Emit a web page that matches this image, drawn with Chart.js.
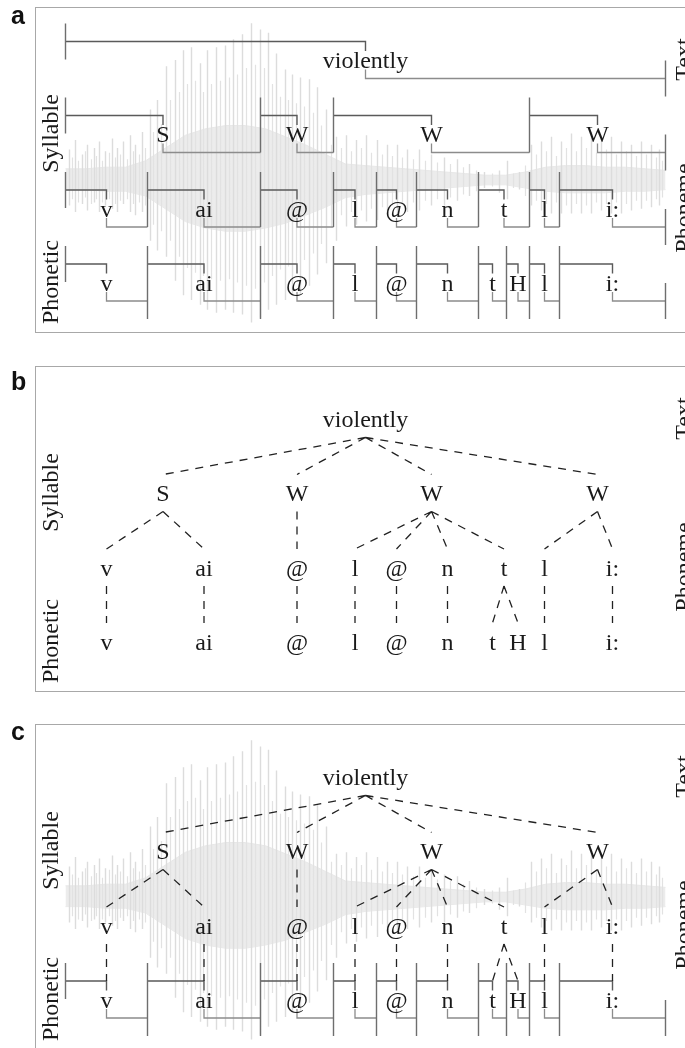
<!DOCTYPE html>
<html>
<head>
<meta charset="utf-8">
<script src="https://cdn.jsdelivr.net/npm/chart.js@4.4.1/dist/chart.umd.min.js"></script>
<style>
  html, body { margin: 0; padding: 0; background: #fff; overflow: hidden; width: 685px; height: 1048px; }
  .panel { position: absolute; left: 0; width: 700px; height: 326px; }
  .box { position: absolute; left: 35px; top: 0; width: 700px; height: 324px; border: 1.5px solid #a8a8a8; border-right: none; }
  .panel canvas { position: absolute; left: 0; top: 0; }
  .tag { position: absolute; left: 11px; font: bold 25px "Liberation Sans", Arial, sans-serif; line-height: 25px; color: #111; }
</style>
</head>
<body>
<div class="panel" style="top:7px"><div class="box"></div><canvas id="chartA" width="700" height="326"></canvas></div>
<div class="panel" style="top:366px"><div class="box"></div><canvas id="chartB" width="700" height="326"></canvas></div>
<div class="panel" style="top:724px"><div class="box"></div><canvas id="chartC" width="700" height="326"></canvas></div>
<div class="tag" style="top:3px">a</div>
<div class="tag" style="top:369px">b</div>
<div class="tag" style="top:719px">c</div>

<script>
// Tiers: labels and boundaries (ms)
const textLabels = ['violently'];
const textBounds = [0, 600];
const syllableLabels = ['S', 'W', 'W', 'W'];
const syllableBounds = [0, 195, 268, 464, 600];
const phonemeLabels = ['v', 'ai', '@', 'l', '@', 'n', 't', 'l', 'i:'];
const phonemeBounds = [0, 82, 195, 268, 311, 351, 413, 464, 494, 600];
const phoneticLabels = ['v', 'ai', '@', 'l', '@', 'n', 't', 'H', 'l', 'i:'];
const phoneticBounds = [0, 82, 195, 268, 311, 351, 413, 441, 464, 494, 600];

// which item of the tier above each item belongs to
const syllableParent = [0, 0, 0, 0];
const phonemeParent = [0, 0, 1, 2, 2, 2, 2, 3, 3];
const phoneticParent = [0, 1, 2, 3, 4, 5, 6, 6, 7, 8];

const tierNames = ['Text', 'Syllable', 'Phoneme', 'Phonetic'];

// waveform: dense core envelope
const coreT  = [0, 20, 40, 60, 80, 100, 120, 140, 160, 180, 200, 220, 240, 260, 280, 300, 320, 340, 360, 380, 400, 420, 440, 460, 480, 500, 520, 540, 560, 580, 600];
const coreHi = [0.07, 0.07, 0.08, 0.08, 0.12, 0.2, 0.28, 0.32, 0.34, 0.34, 0.32, 0.27, 0.22, 0.16, 0.1, 0.09, 0.08, 0.07, 0.06, 0.05, 0.04, 0.03, 0.03, 0.05, 0.08, 0.09, 0.09, 0.08, 0.08, 0.07, 0.06];
const coreLo = [-0.06, -0.06, -0.07, -0.07, -0.1, -0.18, -0.26, -0.3, -0.32, -0.32, -0.3, -0.27, -0.22, -0.17, -0.11, -0.09, -0.08, -0.07, -0.06, -0.05, -0.04, -0.03, -0.03, -0.05, -0.07, -0.08, -0.08, -0.08, -0.07, -0.07, -0.06];

// waveform: main peaks
const spikeT  = [4, 10, 17, 22, 29, 34, 40, 47, 52, 58, 65, 70, 77, 85, 92, 101, 110, 118, 126, 135, 142, 151, 160, 168, 177, 186, 195, 203, 211, 220, 227, 235, 244, 252, 261, 271, 281, 291, 301, 312, 322, 332, 342, 354, 366, 379, 392, 404, 419, 434, 442, 454, 466, 476, 486, 496, 506, 516, 526, 536, 546, 556, 566, 576, 586, 594];
const spikeHi = [0.19, 0.25, 0.16, 0.22, 0.2, 0.24, 0.18, 0.26, 0.2, 0.24, 0.28, 0.22, 0.3, 0.44, 0.5, 0.71, 0.75, 0.81, 0.83, 0.73, 0.81, 0.83, 0.84, 0.88, 0.91, 0.98, 0.94, 0.92, 0.79, 0.69, 0.66, 0.64, 0.63, 0.58, 0.44, 0.27, 0.28, 0.25, 0.28, 0.25, 0.22, 0.22, 0.19, 0.19, 0.16, 0.14, 0.13, 0.1, 0.05, 0.06, 0.12, 0.05, 0.22, 0.24, 0.27, 0.24, 0.29, 0.27, 0.3, 0.24, 0.27, 0.24, 0.22, 0.24, 0.22, 0.19];
const spikeLo = [-0.16, -0.2, -0.15, -0.19, -0.14, -0.2, -0.16, -0.18, -0.2, -0.15, -0.2, -0.22, -0.2, -0.38, -0.44, -0.48, -0.63, -0.72, -0.75, -0.78, -0.81, -0.83, -0.81, -0.83, -0.84, -0.89, -0.86, -0.81, -0.78, -0.75, -0.72, -0.71, -0.66, -0.59, -0.52, -0.38, -0.29, -0.28, -0.26, -0.25, -0.22, -0.22, -0.2, -0.19, -0.16, -0.16, -0.13, -0.1, -0.05, -0.08, -0.12, -0.06, -0.16, -0.19, -0.21, -0.21, -0.21, -0.21, -0.21, -0.19, -0.21, -0.21, -0.19, -0.18, -0.17, -0.16];

// waveform: smaller peaks between the main ones
const minorT  = [7, 13, 20, 26, 31, 37, 44, 50, 55, 62, 68, 74, 80, 88, 96, 105, 114, 122, 130, 138, 146, 155, 164, 172, 181, 190, 199, 207, 215, 223, 231, 239, 248, 256, 266, 276, 286, 296, 306, 317, 327, 337, 348, 360, 372, 385, 398, 411, 427, 448, 460, 471, 481, 491, 501, 511, 521, 531, 541, 551, 561, 571, 581, 591, 597];
const minorHi = [0.14, 0.12, 0.18, 0.13, 0.15, 0.12, 0.17, 0.14, 0.16, 0.13, 0.18, 0.16, 0.2, 0.3, 0.35, 0.5, 0.55, 0.6, 0.62, 0.55, 0.6, 0.62, 0.64, 0.66, 0.7, 0.72, 0.7, 0.6, 0.52, 0.5, 0.48, 0.46, 0.42, 0.34, 0.22, 0.2, 0.18, 0.2, 0.17, 0.16, 0.15, 0.14, 0.13, 0.12, 0.11, 0.1, 0.08, 0.06, 0.04, 0.04, 0.09, 0.16, 0.18, 0.15, 0.2, 0.18, 0.2, 0.17, 0.19, 0.16, 0.18, 0.15, 0.16, 0.14, 0.12];
const minorLo = [-0.12, -0.14, -0.11, -0.15, -0.12, -0.14, -0.12, -0.15, -0.13, -0.12, -0.15, -0.14, -0.16, -0.28, -0.32, -0.38, -0.48, -0.55, -0.58, -0.6, -0.62, -0.63, -0.62, -0.64, -0.66, -0.68, -0.64, -0.6, -0.56, -0.54, -0.52, -0.5, -0.46, -0.4, -0.3, -0.22, -0.2, -0.19, -0.18, -0.17, -0.16, -0.15, -0.14, -0.13, -0.12, -0.11, -0.09, -0.07, -0.04, -0.05, -0.1, -0.13, -0.15, -0.14, -0.16, -0.15, -0.16, -0.14, -0.15, -0.14, -0.15, -0.13, -0.13, -0.12, -0.11];

// layout (pixels inside a panel)
const TIER_TOP = [34.5, 108.5, 183, 257];
const RISE = 37, HALF = 18, BASE = 26.5, TICK_A = 9.5, TICK_B = 28;
const SERIF = '24px "Liberation Serif", "Times New Roman", serif';

const tiers = [
  { labels: textLabels, bounds: textBounds },
  { labels: syllableLabels, bounds: syllableBounds, parent: syllableParent },
  { labels: phonemeLabels, bounds: phonemeBounds, parent: phonemeParent },
  { labels: phoneticLabels, bounds: phoneticBounds, parent: phoneticParent }
];

function mids(b) {
  return b.slice(1).map((v, i) => (b[i] + v) / 2);
}

function line(data, color, width, extra) {
  return Object.assign({ data: data, borderColor: color, borderWidth: width, pointRadius: 0, fill: false, tension: 0 }, extra || {});
}

// step drawing of a tier
function stepSets(k) {
  const T = TIER_TOP[k], B = T + RISE, b = tiers[k].bounds, m = mids(b);
  const upper = [], lower = [], edges = [];
  m.forEach((c, i) => {
    upper.push({ x: b[i], y: T }, { x: c, y: T }, { x: c, y: T + TICK_A }, { x: c, y: null });
    lower.push({ x: c, y: T + TICK_B }, { x: c, y: B }, { x: b[i + 1], y: B }, { x: c, y: null });
  });
  b.forEach((v, i) => {
    let y0 = T - HALF, y1 = B;
    if (i === 0) y1 = T + HALF;
    else if (i === b.length - 1) { y0 = B - HALF; y1 = B + HALF; }
    else if (k === 3) y1 = B + HALF;
    edges.push({ x: v, y: y0 }, { x: v, y: y1 }, { x: v, y: null });
  });
  return [
    line(edges, '#6e6e6e', 1.4),
    line(upper, '#5a5a5a', 1.4),
    line(lower, '#8c8c8c', 1.3)
  ];
}

// dashed tree links between tier k-1 and tier k
function treeSet(k) {
  const pm = mids(tiers[k - 1].bounds), cm = mids(tiers[k].bounds);
  const pts = [];
  tiers[k].parent.forEach((p, j) => {
    pts.push({ x: pm[p], y: TIER_TOP[k - 1] + RISE }, { x: cm[j], y: TIER_TOP[k] }, { x: cm[j], y: null });
  });
  return line(pts, '#222', 1.3, { borderDash: [8, 7] });
}

function peaks(ts, hi, lo) {
  const pts = [];
  ts.forEach((t, i) => {
    pts.push({ x: t, y: lo[i] }, { x: t, y: hi[i] }, { x: t, y: null });
  });
  return pts;
}

function waveSets() {
  return [
    line(peaks(spikeT, spikeHi, spikeLo), '#dcdcdc', 1.4, { yAxisID: 'w' }),
    line(peaks(minorT, minorHi, minorLo), '#e2e2e2', 1.2, { yAxisID: 'w' }),
    line(coreT.map((t, i) => ({ x: t, y: coreHi[i] })), '#e8e8e8', 1, { yAxisID: 'w', fill: '+1', backgroundColor: '#ececec' }),
    line(coreT.map((t, i) => ({ x: t, y: coreLo[i] })), '#e8e8e8', 1, { yAxisID: 'w' })
  ];
}

const labelPlugin = {
  id: 'tierLabels',
  afterDatasetsDraw(chart) {
    const { ctx } = chart;
    const x = chart.scales.x, y = chart.scales.y;
    ctx.save();
    ctx.fillStyle = '#1a1a1a';
    ctx.font = SERIF;
    ctx.textAlign = 'center';
    ctx.textBaseline = 'alphabetic';
    tiers.forEach((tier, k) => {
      mids(tier.bounds).forEach((c, i) => {
        ctx.fillText(tier.labels[i], x.getPixelForValue(c), y.getPixelForValue(TIER_TOP[k] + BASE));
      });
    });
    // rotated tier names: odd tiers left, even tiers right
    tierNames.forEach((name, k) => {
      const px = k % 2 ? 57.5 : 691;
      ctx.save();
      ctx.translate(px, y.getPixelForValue(TIER_TOP[k] + BASE - 8.5));
      ctx.rotate(-Math.PI / 2);
      ctx.fillText(name, 0, 0);
      ctx.restore();
    });
    ctx.restore();
  }
};

function makePanel(id, opt) {
  let sets = [];
  (opt.tree || []).forEach(k => sets.push(treeSet(k)));
  (opt.steps || []).forEach(k => { sets = sets.concat(stepSets(k)); });
  if (opt.wave) sets = sets.concat(waveSets());
  new Chart(document.getElementById(id), {
    type: 'line',
    data: { datasets: sets },
    options: {
      responsive: false,
      animation: false,
      events: [],
      layout: { padding: 0 },
      plugins: { legend: { display: false }, tooltip: { enabled: false } },
      scales: {
        x: { type: 'linear', axis: 'x', min: -65.5, max: 634.5, display: false },
        y: { type: 'linear', axis: 'y', min: 0, max: 326, reverse: true, display: false },
        w: { type: 'linear', axis: 'y', min: -0.956, max: 1.081, display: false }
      }
    },
    plugins: [labelPlugin]
  });
}

makePanel('chartA', { wave: true, steps: [0, 1, 2, 3] });
makePanel('chartB', { tree: [1, 2, 3] });
makePanel('chartC', { wave: true, tree: [1, 2, 3], steps: [3] });
</script>
</body>
</html>
